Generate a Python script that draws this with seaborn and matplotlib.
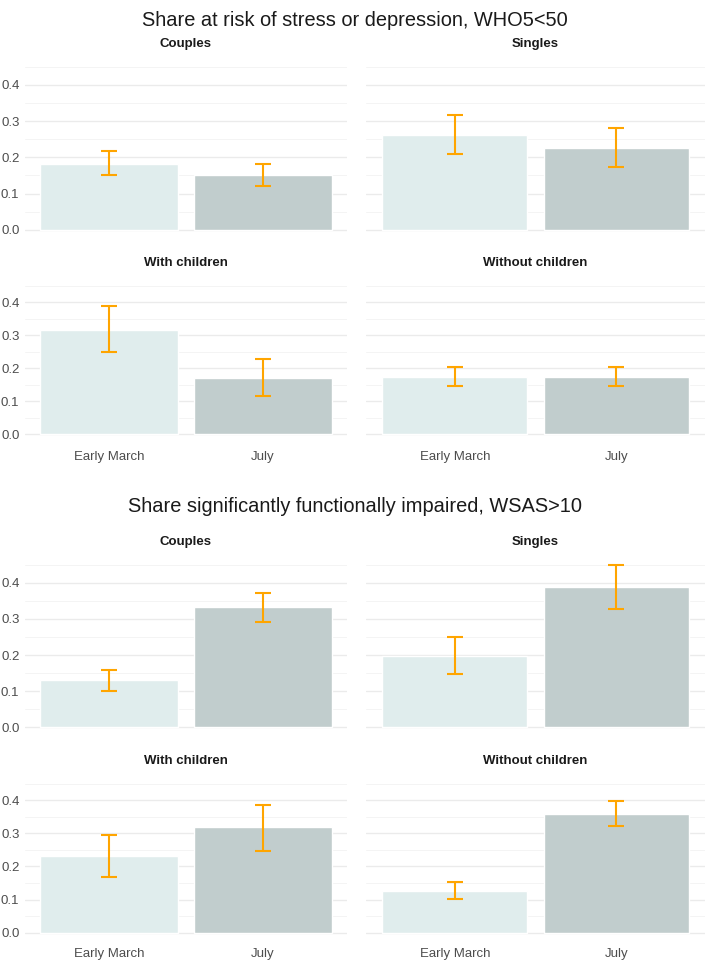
import numpy as np
import pandas as pd
import matplotlib
matplotlib.use("Agg")
import matplotlib.pyplot as plt
import seaborn as sns

# ========== Data ==========
periods = ["Early March", "July"]
groups = ["Couples", "Singles", "With children", "Without children"]

section_titles = [
    "Share at risk of stress or depression, WHO5<50",
    "Share significantly functionally impaired, WSAS>10",
]

# WHO5 < 50
who5_share = [[0.183, 0.152], [0.262, 0.227], [0.317, 0.172], [0.175, 0.175]]
who5_low = [[0.152, 0.122], [0.208, 0.174], [0.248, 0.116], [0.146, 0.146]]
who5_high = [[0.217, 0.183], [0.318, 0.282], [0.388, 0.229], [0.205, 0.205]]

# WSAS > 10
wsas_share = [[0.130, 0.333], [0.198, 0.387], [0.231, 0.318], [0.127, 0.359]]
wsas_low = [[0.101, 0.292], [0.148, 0.327], [0.168, 0.248], [0.101, 0.322]]
wsas_high = [[0.159, 0.373], [0.249, 0.449], [0.295, 0.387], [0.154, 0.397]]

bar_colors = ["#e0eded", "#c1cdcd"]
err_color = "#FFA500"

# ========== Style ==========
sns.set_theme(style="white")
plt.rcParams["font.family"] = ["Liberation Sans", "DejaVu Sans"]

W, H = 709, 961
fig = plt.figure(figsize=(W / 100, H / 100), dpi=100)

col_x = [(25, 347), (366, 705)]
# (top px, bottom px) of each row of panels
row_y = [(58.7, 237.9), (278.4, 441.7), (556.5, 735.6), (776.3, 940.1)]
strip_y = [44, 263, 542, 761]
xlab_pad = [0, 7, 0, 6]


def make_ax(col, row):
    x0, x1 = col_x[col]
    t, b = row_y[row]
    return fig.add_axes([x0 / W, 1 - b / H, (x1 - x0) / W, (b - t) / H])


sections = [
    (who5_share, who5_low, who5_high),
    (wsas_share, wsas_low, wsas_high),
]

for s, (share, low, high) in enumerate(sections):
    for g, grp in enumerate(groups):
        col = g % 2
        row = s * 2 + g // 2
        ax = make_ax(col, row)
        df = pd.DataFrame({"period": periods, "share": share[g]})
        sns.barplot(data=df, x="period", y="share", hue="period",
                    palette=bar_colors, width=0.9, ax=ax, legend=False,
                    saturation=1)
        lo = np.array(share[g]) - np.array(low[g])
        hi = np.array(high[g]) - np.array(share[g])
        ax.errorbar(x=[0, 1], y=share[g], yerr=[lo, hi], fmt="none",
                    ecolor=err_color, elinewidth=1.5, capsize=5.5,
                    capthick=1.5, zorder=3)
        ax.set_xlim(-0.55, 1.55)
        ax.set_ylim(-0.0225, 0.4725)
        ax.set_yticks([0.0, 0.1, 0.2, 0.3, 0.4])
        ax.set_yticks([0.05, 0.15, 0.25, 0.35, 0.45], minor=True)
        ax.grid(axis="y", which="major", color="#ebebeb", lw=1.0)
        ax.grid(axis="y", which="minor", color="#f2f2f2", lw=0.6)
        ax.set_axisbelow(True)
        for sp in ax.spines.values():
            sp.set_visible(False)
        ax.set_xlabel("")
        ax.set_ylabel("")
        ax.tick_params(axis="both", length=0, labelsize=9.5,
                       labelcolor="#4d4d4d", pad=4)
        if col == 1:
            ax.set_yticklabels([])
        else:
            ax.set_yticklabels(["0.0", "0.1", "0.2", "0.3", "0.4"])
        if row % 2 == 0:
            ax.set_xticklabels([])
        else:
            ax.tick_params(axis="x", pad=xlab_pad[row])
        x0, x1 = col_x[col]
        fig.text((x0 + x1) / 2 / W, 1 - strip_y[row] / H, grp,
                 ha="center", va="center", fontsize=9.5, fontweight="bold",
                 color="#1a1a1a")

fig.text(0.5, 1 - 20 / H, section_titles[0], ha="center", va="center",
         fontsize=14.4, color="#1a1a1a")
fig.text(0.5, 1 - 507 / H, section_titles[1], ha="center", va="center",
         fontsize=14.4, color="#1a1a1a")

fig.savefig("out.png", dpi=100, facecolor="white")
